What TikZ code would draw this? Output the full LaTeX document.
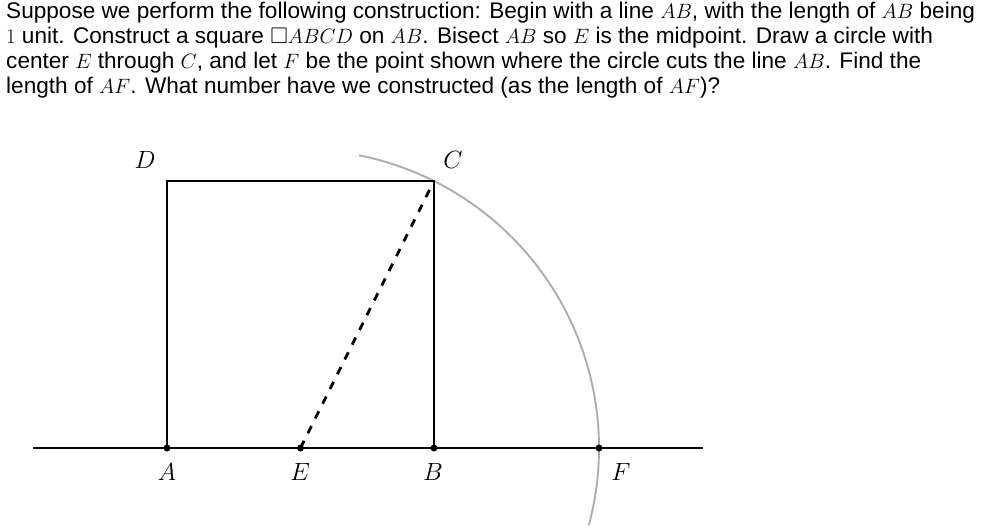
\documentclass[tikz,border=0pt]{standalone}
\usepackage{amssymb}
\usepackage{fontspec}
\newfontfamily\arialfont{Liberation Sans}
\begin{document}
\begin{tikzpicture}[x=1pt,y=1pt,
  txt/.style={anchor=base west,inner sep=0pt,align=left,font=\arialfont\fontsize{22.6}{25}\selectfont},
  lbl/.style={inner sep=0pt,font=\fontsize{25}{28}\selectfont},
  edge/.style={line width=2.7pt,black},
  dashline/.style={line width=2.7pt,black,dash pattern=on 8pt off 8.5pt},
  circ/.style={line width=1.9pt,black!32},
  dot/.style={circle,fill=black,inner sep=0pt,minimum size=7pt}]
\useasboundingbox (0,0) rectangle (998,531);
% text (anchored at the baseline of its last line)
\node[txt] (q) at (6,437) {Suppose we perform the following construction: Begin with a line $AB$, with the length of $AB$ being\\
$1$ unit. Construct a square $\square ABCD$ on $AB$. Bisect $AB$ so $E$ is the midpoint. Draw a circle with\\
center $E$ through $C$, and let $F$ be the point shown where the circle cuts the line $AB$. Find the\\
length of $AF$. What number have we constructed (as the length of $AF$)?};
% points
\coordinate (A) at (167,83);
\coordinate (B) at (434,83);
\coordinate (E) at (300.5,83);
\coordinate (C) at (434,350);
\coordinate (D) at (167,350);
\coordinate (F) at (599,83);
\coordinate (L1) at (33,83);
\coordinate (L2) at (703,83);
% circle arc
\draw[circ] (E) ++(78.7:298.5pt) arc[start angle=78.7,end angle=-15,radius=298.5pt];
% lines
\draw[edge] (L1) -- (L2);
\draw[edge] (A) -- (D) -- (C) -- (B);
\draw[dashline] (E) -- (C);
\foreach \p in {A,E,B,F} \node[dot] at (\p) {};
% labels
\node[lbl] (lA) at (167,59) {$A$};
\node[lbl] (lE) at (300,59) {$E$};
\node[lbl] (lB) at (433,59) {$B$};
\node[lbl] (lF) at (621,59) {$F$};
\node[lbl] (lD) at (145,371) {$D$};
\node[lbl] (lC) at (453,371) {$C$};
\end{tikzpicture}
\end{document}
